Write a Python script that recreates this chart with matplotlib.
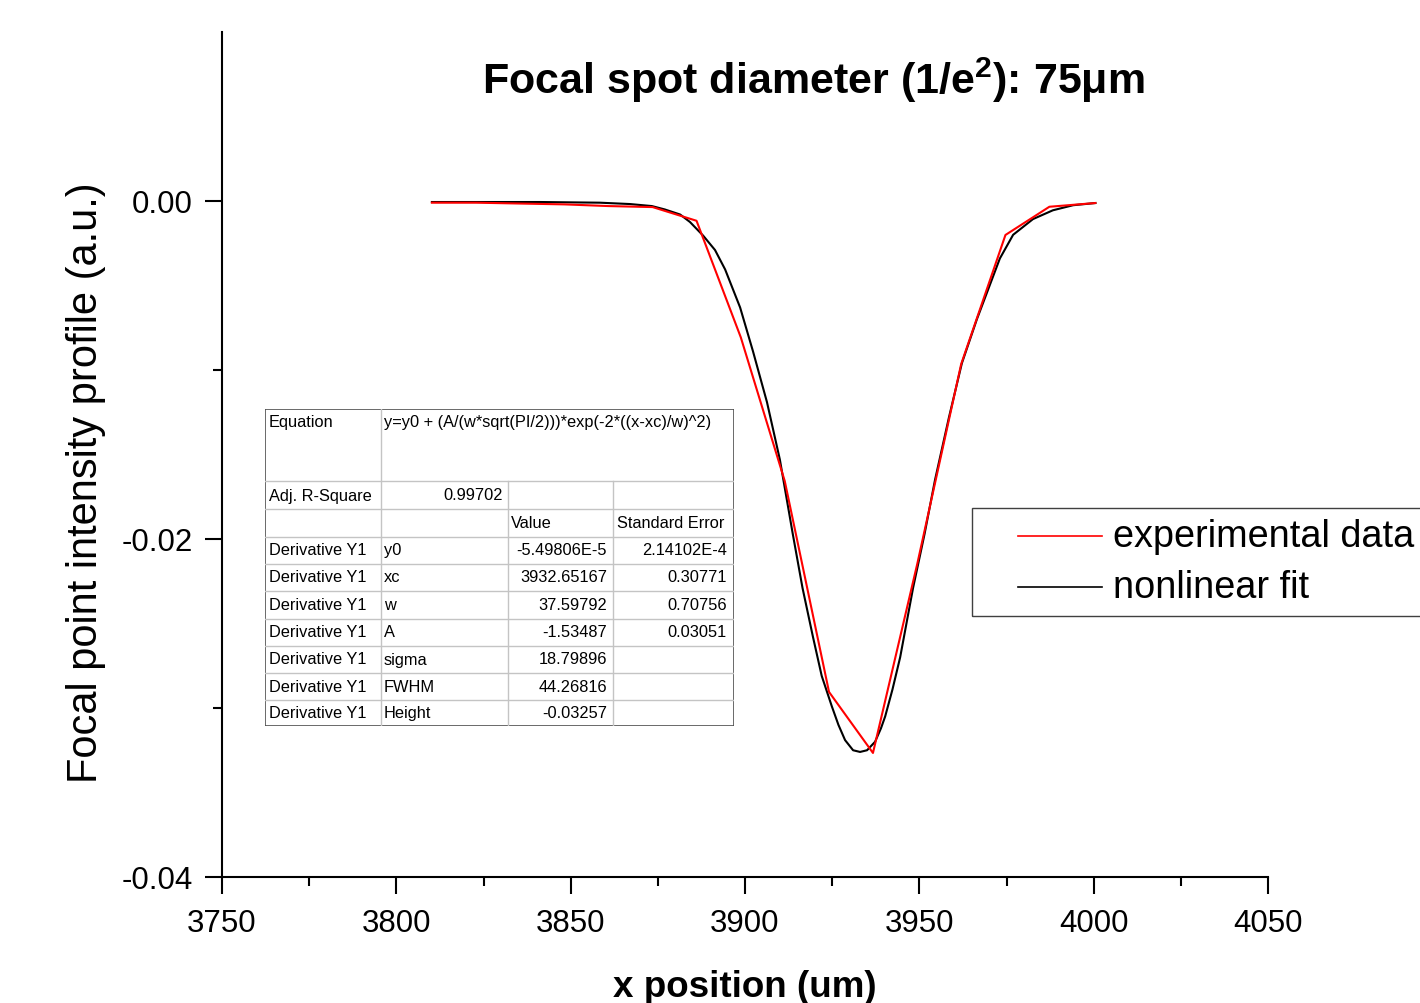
import matplotlib
matplotlib.use("Agg")
import matplotlib.pyplot as plt
from matplotlib import font_manager
from matplotlib.lines import Line2D
from matplotlib.patches import Rectangle

W, H = 1420, 1004

# experimental data (red)
exp_x = [3810.2, 3822.9, 3835.5, 3848.2, 3860.8, 3873.5, 3886.1, 3898.8,
         3911.4, 3924.1, 3936.7, 3949.4, 3962.0, 3974.7, 3987.3, 4000.5]
exp_y = [-0.0001, -0.0001, -0.00015, -0.0002, -0.0003, -0.00036, -0.00117, -0.00807,
         -0.01657, -0.02905, -0.03266, -0.02148, -0.00965, -0.00201, -0.00034, -0.00012]

# nonlinear fit (black)
fit_x = [3810.2, 3841.2, 3858.4, 3867.0, 3873.3, 3877.0, 3881.4, 3884.2, 3888.0, 3891.4,
         3894.3, 3898.6, 3902.3, 3906.3, 3910.0, 3913.7, 3916.5, 3919.5, 3922.0, 3924.9,
         3926.8, 3928.7, 3931.0, 3933.0, 3935.0, 3937.3, 3939.0, 3940.2, 3942.3, 3944.5,
         3948.2, 3951.5, 3954.5, 3958.5, 3962.2, 3966.5, 3973.1, 3976.9, 3982.6, 3988.3,
         3994.1, 4000.5]
fit_y = [-0.00006, -0.00006, -0.0001, -0.00018, -0.0003, -0.0005, -0.0008, -0.00124, -0.00205, -0.0029,
         -0.00405, -0.0063, -0.0089, -0.0119, -0.0153, -0.0197, -0.0229, -0.0258, -0.0281, -0.0299,
         -0.0310, -0.0319, -0.0325, -0.0326, -0.0325, -0.0320, -0.0312, -0.0305, -0.0289, -0.0270,
         -0.0229, -0.0197, -0.0165, -0.0128, -0.0096, -0.0070, -0.0034, -0.0020, -0.00107, -0.00055,
         -0.00025, -0.00012]

xticks = [3750, 3800, 3850, 3900, 3950, 4000, 4050]
xminor = [3775, 3825, 3875, 3925, 3975, 4025]
yticks = [0.0, -0.02, -0.04]
ytick_labels = ["0.00", "-0.02", "-0.04"]
yminor = [-0.01, -0.03]

title = "Focal spot diameter (1/e$^{2}$): 75μm"
xlabel = "x position (um)"
ylabel = "Focal point intensity profile (a.u.)"
legend_labels = ["experimental data", "nonlinear fit"]

# fit report table
equation = "y=y0 + (A/(w*sqrt(PI/2)))*exp(-2*((x-xc)/w)^2)"
adj_r2 = "0.99702"
param_names = ["y0", "xc", "w", "A", "sigma", "FWHM", "Height"]
param_values = ["-5.49806E-5", "3932.65167", "37.59792", "-1.53487", "18.79896", "44.26816", "-0.03257"]
param_errors = ["2.14102E-4", "0.30771", "0.70756", "0.03051", "", "", ""]


def pick(*names):
    for n in names:
        try:
            font_manager.findfont(n, fallback_to_default=False)
            return n
        except ValueError:
            pass
    return "DejaVu Sans"


sans = pick("Liberation Sans", "Arial")
narrow = pick("Liberation Sans Narrow", sans)
have_narrow = narrow != sans

plt.rcParams["font.family"] = [sans, "DejaVu Sans"]
plt.rcParams["mathtext.fontset"] = "custom"
plt.rcParams["mathtext.rm"] = narrow + ":bold"
plt.rcParams["mathtext.it"] = narrow + ":bold"
plt.rcParams["mathtext.bf"] = narrow + ":bold"


def fx(x):
    return x / W


def fy(y):
    return 1 - y / H


fig = plt.figure(figsize=(W / 100, H / 100), dpi=100)
ax = fig.add_axes([fx(222), fy(878), (1268 - 222) / W, (878 - 33) / H])

ax.plot(fit_x, fit_y, color="black", lw=1.5, zorder=2)
ax.plot(exp_x, exp_y, color="#ff0000", lw=1.5, zorder=3)

ax.set_xlim(3750, 4050)
ax.set_ylim(-0.04, 0.01)
ax.spines["top"].set_visible(False)
ax.spines["right"].set_visible(False)
for s in ["left", "bottom"]:
    ax.spines[s].set_linewidth(1.5)

tick_font = narrow if have_narrow else sans
tick_size = 26 if have_narrow else 22.5
ax.set_xticks(xticks)
ax.set_xticks(xminor, minor=True)
ax.set_yticks(yticks)
ax.set_yticklabels(ytick_labels)
ax.set_yticks(yminor, minor=True)
ax.tick_params(which="major", direction="out", length=12, width=1.5)
ax.tick_params(which="minor", direction="out", length=6.5, width=1.5)
ax.tick_params(axis="x", which="major", pad=10)
ax.tick_params(axis="y", which="major", pad=9)
for lab in ax.get_xticklabels() + ax.get_yticklabels():
    lab.set_fontfamily(tick_font)
    lab.set_fontsize(tick_size)

# titles
fig.text(fx(813), fy(80), title, ha="center", va="center", fontweight="bold",
         family=narrow, fontsize=37 if have_narrow else 31)
fig.text(fx(745), fy(988), xlabel, ha="center", va="center", fontweight="bold",
         family=narrow, fontsize=32 if have_narrow else 26.5)
fig.text(fx(86), fy(483), ylabel, ha="center", va="center", rotation=90, fontsize=30)

# legend box
fig.add_artist(Rectangle((fx(972), fy(617)), (1440 - 972) / W, (617 - 509) / H,
                         transform=fig.transFigure, fill=False, edgecolor="#404040", lw=1))
for yy, col, lab in [(537, "#ff0000", legend_labels[0]), (588, "black", legend_labels[1])]:
    fig.add_artist(Line2D([fx(1018), fx(1102)], [fy(yy), fy(yy)], color=col, lw=1.2,
                          transform=fig.transFigure))
    fig.text(fx(1113), fy(yy), lab, ha="left", va="center", fontsize=27.3)

# fit report table drawn in pixel units
tab = fig.add_axes([fx(265), fy(727), (734 - 265) / W, (727 - 410) / H])
tab.set_xlim(265, 734)
tab.set_ylim(727, 410)
tab.axis("off")

grid = "#c4c4c4"
rows = [482, 510, 537.5, 565, 592, 619.5, 647, 674, 701]
for r in rows:
    tab.plot([265, 734], [r, r], color=grid, lw=1)
tab.plot([381, 381], [410, 727], color=grid, lw=1)
tab.plot([508, 508], [482, 727], color=grid, lw=1)
tab.plot([613, 613], [482, 727], color=grid, lw=1)
tab.add_patch(Rectangle((265, 410), 469, 317, fill=False, edgecolor="#505050", lw=1.2))

tsize = 11.8
tab.text(269, 422, "Equation", fontsize=tsize, va="center")
tab.text(384, 422, equation, fontsize=tsize, va="center")
tab.text(269, 496, "Adj. R-Square", fontsize=tsize, va="center")
tab.text(503, 496, adj_r2, fontsize=tsize, va="center", ha="right")
tab.text(511, 523.5, "Value", fontsize=tsize, va="center")
tab.text(617, 523.5, "Standard Error", fontsize=tsize, va="center")
centers = [550.5, 578, 605.5, 632.5, 660, 687, 713.5]
for yc, nm, v, e in zip(centers, param_names, param_values, param_errors):
    tab.text(269, yc, "Derivative Y1", fontsize=tsize, va="center")
    tab.text(384, yc, nm, fontsize=tsize, va="center")
    tab.text(607, yc, v, fontsize=tsize, va="center", ha="right")
    if e:
        tab.text(727, yc, e, fontsize=tsize, va="center", ha="right")

fig.savefig("out.png", dpi=100)
